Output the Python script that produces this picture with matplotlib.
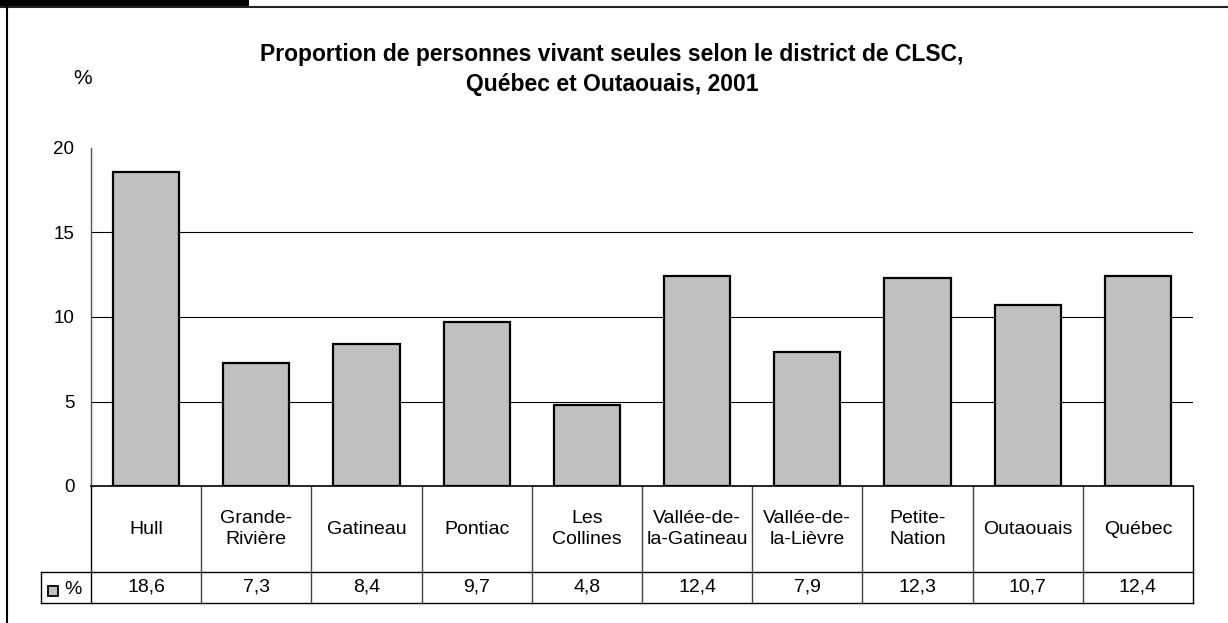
import matplotlib.pyplot as plt
from matplotlib.lines import Line2D
from matplotlib.patches import Rectangle
import matplotlib.transforms as mtransforms

plt.rcParams['font.family'] = ['Liberation Sans', 'DejaVu Sans']

# data
districts = ["Hull", "Grande-\nRivière", "Gatineau", "Pontiac", "Les\nCollines",
             "Vallée-de-\nla-Gatineau", "Vallée-de-\nla-Lièvre", "Petite-\nNation",
             "Outaouais", "Québec"]
values = [18.6, 7.3, 8.4, 9.7, 4.8, 12.4, 7.9, 12.3, 10.7, 12.4]
value_labels = ["18,6", "7,3", "8,4", "9,7", "4,8", "12,4", "7,9", "12,3", "10,7", "12,4"]
yticks = [0, 5, 10, 15, 20]

W, H = 1228, 623
fig = plt.figure(figsize=(W / 100, H / 100), dpi=100)

# plot area in pixels
x0, x1 = 91, 1193
y0, y1 = 486, 148
ax = fig.add_axes([x0 / W, 1 - y0 / H, (x1 - x0) / W, (y0 - y1) / H])

n = len(values)
xs = list(range(n))
ax.bar(xs, values, width=0.6, color='#c0c0c0', edgecolor='black', linewidth=1.6, zorder=3)
ax.set_xlim(-0.5, n - 0.5)
ax.set_ylim(0, 20)

for t in yticks[1:-1]:
    ax.axhline(t, color='black', linewidth=0.8, zorder=1)

ax.set_yticks(yticks)
ax.set_yticklabels([str(t) for t in yticks], fontsize=13.5)
ax.tick_params(axis='y', length=0, pad=12)
ax.set_xticks([])
for s in ['top', 'right']:
    ax.spines[s].set_visible(False)
ax.spines['left'].set_color('#555555')
ax.spines['left'].set_linewidth(1.0)
ax.spines['bottom'].set_color('black')
ax.spines['bottom'].set_linewidth(1.2)

# data table under the axes
trans = mtransforms.blended_transform_factory(ax.transData, ax.transAxes)
ph = y0 - y1
row1 = -(572 - y0) / ph
row2 = -(603 - y0) / ph
left_cell = -0.5 - (x0 - 41) / ((x1 - x0) / n)

def hline(xa, xb, y, color='black', lw=1.0):
    ax.add_line(Line2D([xa, xb], [y, y], transform=trans, color=color, lw=lw, clip_on=False))

def vline(x, ya, yb, color='#444444', lw=1.0):
    ax.add_line(Line2D([x, x], [ya, yb], transform=trans, color=color, lw=lw, clip_on=False))

hline(left_cell, n - 0.5, row1)
hline(left_cell, n - 0.5, row2)
vline(left_cell, row1, row2, color='black')
for i in range(n + 1):
    vline(i - 0.5, 0, row2, color='black' if i in (0, n) else '#444444')

for i, (name, lab) in enumerate(zip(districts, value_labels)):
    ax.text(i, row1 / 2, name, transform=trans, ha='center', va='center',
            fontsize=14, linespacing=1.25)
    ax.text(i, (row1 + row2) / 2, lab, transform=trans, ha='center', va='center', fontsize=14)

# legend key in the table
fig.add_artist(Rectangle((48 / W, 1 - 596 / H), 10 / W, 10 / H, transform=fig.transFigure,
                         facecolor='#c0c0c0', edgecolor='black', linewidth=1.3))
fig.text(73 / W, 1 - 589 / H, "%", ha='center', va='center', fontsize=14)

# titles
fig.text(612 / W, 1 - 55 / H, "Proportion de personnes vivant seules selon le district de CLSC,",
         ha='center', va='center', fontsize=16.5, fontweight='bold')
fig.text(612 / W, 1 - 84 / H, "Québec et Outaouais, 2001",
         ha='center', va='center', fontsize=16.5, fontweight='bold')
fig.text(83 / W, 1 - 79 / H, "%", ha='center', va='center', fontsize=15)

# frame
fig.add_artist(Rectangle((0, 1 - 7 / H), 249 / W, 7 / H, transform=fig.transFigure,
                         facecolor='black', edgecolor='none'))
fig.add_artist(Line2D([0, 1], [1 - 7 / H, 1 - 7 / H], transform=fig.transFigure,
                      color='#222222', lw=1.5))
fig.add_artist(Line2D([6.5 / W, 6.5 / W], [0, 1 - 7 / H], transform=fig.transFigure,
                      color='black', lw=1.5))

fig.savefig("out.png", dpi=100)
